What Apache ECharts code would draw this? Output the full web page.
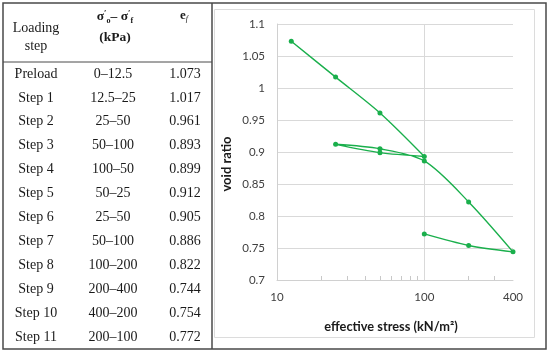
<!DOCTYPE html>
<html><head><meta charset="utf-8">
<script src="https://cdn.jsdelivr.net/npm/echarts@6/dist/echarts.min.js"></script>
<style>html,body{margin:0;padding:0;background:#fff}#c{width:550px;height:353px}</style>
</head><body><div id="c"></div>
<script>
// ---- table data ----
const steps = ['Preload','Step 1','Step 2','Step 3','Step 4','Step 5','Step 6','Step 7','Step 8','Step 9','Step 10','Step 11'];
const stressRanges = ['0–12.5','12.5–25','25–50','50–100','100–50','50–25','25–50','50–100','100–200','200–400','400–200','200–100'];
const efValues = ['1.073','1.017','0.961','0.893','0.899','0.912','0.905','0.886','0.822','0.744','0.754','0.772'];
// ---- chart data ----
const stress = [12.5, 25, 50, 100, 50, 25, 50, 100, 200, 400, 200, 100];
const voidRatio = [1.073, 1.017, 0.961, 0.893, 0.899, 0.912, 0.905, 0.886, 0.822, 0.744, 0.754, 0.772];
const xLabelValues = [10, 100, 400];
const xMinorTicks = [20, 30, 40, 50, 60, 70, 80, 90, 200, 300];

const GREEN = '#1aaf4c';
const SERIF = '"Liberation Serif", "DejaVu Serif", serif';
const SANS = 'Lato, "Liberation Sans", sans-serif';

const graphics = [];
// frame
graphics.push({type:'rect', shape:{x:3,y:3,width:543,height:346}, style:{fill:'none', stroke:'#4a4a4a', lineWidth:1.5}, z:10});
graphics.push({type:'line', shape:{x1:212,y1:3,x2:212,y2:349}, style:{stroke:'#4a4a4a', lineWidth:1.5}, z:10});
graphics.push({type:'line', shape:{x1:3,y1:62,x2:212,y2:62}, style:{stroke:'#4a4a4a', lineWidth:1}, z:10});
// inner chart border
graphics.push({type:'rect', shape:{x:214.5,y:9.5,width:320,height:328}, style:{fill:'none', stroke:'#dcdcdc', lineWidth:1}, z:1});
function txt(t, x, y, font, extra) {
  return {type:'text', x:x, y:y, z:11, style:Object.assign({text:t, font:font, fill:'#1a1a1a', align:'center', verticalAlign:'middle'}, extra||{})};
}
// header
graphics.push(txt('Loading', 36, 28, '14px ' + SERIF));
graphics.push(txt('step', 36, 46, '14px ' + SERIF));
graphics.push(txt('{s|σ}{p|′}{o|o}{s|– σ}{p|′}{o|f}', 115, 17, 'bold 13px ' + SERIF, {
  rich: {
    s: {font:'bold 13.5px ' + SERIF, fill:'#1a1a1a', lineHeight:16, verticalAlign:'middle'},
    p: {font:'bold 9px ' + SERIF, fill:'#1a1a1a', lineHeight:16, verticalAlign:'top'},
    o: {font:'bold 8px ' + SERIF, fill:'#1a1a1a', lineHeight:16, verticalAlign:'bottom'}
  }
}));
graphics.push(txt('(kPa)', 115, 38, 'bold 13.5px ' + SERIF));
graphics.push(txt('{e|e}{f|f}', 184, 16, 'bold 13px ' + SERIF, {
  rich: {
    e: {font:'bold 13px ' + SERIF, fill:'#1a1a1a', lineHeight:14, verticalAlign:'middle'},
    f: {font:'italic 8px ' + SERIF, fill:'#1a1a1a', lineHeight:14, verticalAlign:'bottom'}
  }
}));
steps.forEach(function (s, i) {
  const y = 74 + i * 23.9;
  graphics.push(txt(s, 36, y, '14px ' + SERIF));
  graphics.push(txt(stressRanges[i], 113, y, '14px ' + SERIF));
  graphics.push(txt(efValues[i], 185, y, '14px ' + SERIF));
});
// axis titles
graphics.push({type:'text', x:227, y:164, rotation:Math.PI/2, z:11, style:{text:'void ratio', font:'bold 13px ' + SANS, fill:'#1a1a1a', align:'center', verticalAlign:'middle'}});
graphics.push({type:'text', x:391, y:327, z:11, style:{text:'effective stress (kN/m²)', font:'bold 12.8px ' + SANS, fill:'#1a1a1a', align:'center', verticalAlign:'middle'}});

const chart = echarts.init(document.getElementById('c'), null, {renderer:'canvas'});
chart.setOption({
  animation: false,
  backgroundColor: '#fff',
  grid: {left:277, top:24, right:37, bottom:73, containLabel:false, outerBoundsMode:'none'},
  xAxis: [{
    type:'log', logBase:10, min:10, max:400,
    axisLine:{show:true, lineStyle:{color:'#d0d0d0', width:1}},
    axisTick:{show:false},
    axisLabel:{color:'#404040', fontFamily:'Lato', fontSize:11.5, margin:11},
    splitLine:{show:true, showMinLine:false, showMaxLine:false, lineStyle:{color:'#d9d9d9', width:1}}
  }, {
    type:'log', logBase:10, min:10, max:400, position:'bottom',
    axisLine:{show:false},
    axisLabel:{show:false},
    splitLine:{show:false},
    axisTick:{show:true, inside:true, length:4, customValues:xMinorTicks, lineStyle:{color:'#c8c8c8'}}
  }],
  yAxis: {
    type:'value', min:0.7, max:1.1, interval:0.05,
    axisLine:{show:true, lineStyle:{color:'#d0d0d0', width:1}},
    axisTick:{show:false},
    axisLabel:{color:'#404040', fontFamily:'Lato', fontSize:11.5, margin:12},
    splitLine:{show:true, lineStyle:{color:'#d9d9d9', width:1}}
  },
  series: [{
    type:'line', xAxisIndex:0,
    data: stress.map(function (x, i) { return [x, voidRatio[i]]; }),
    smooth: 0.3,
    symbol:'circle', symbolSize:5,
    lineStyle:{color:GREEN, width:1.4},
    itemStyle:{color:GREEN},
    z:5
  }],
  graphic: graphics
});
</script>
</body></html>
